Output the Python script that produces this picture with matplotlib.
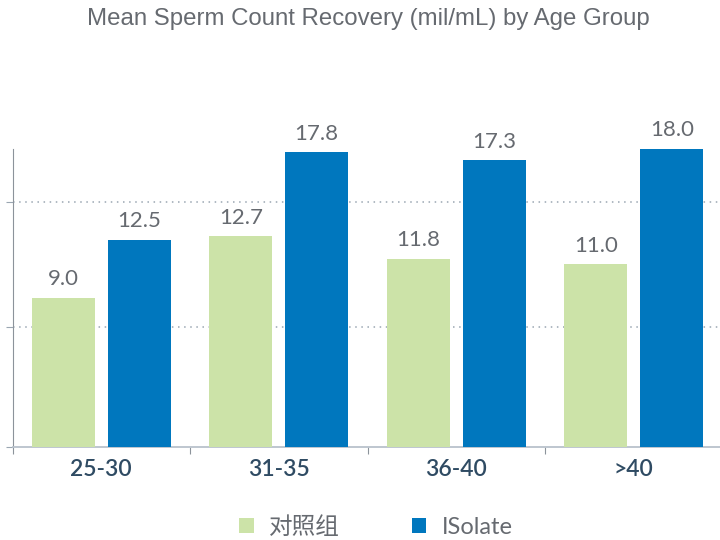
import numpy as np
import matplotlib.pyplot as plt

# data
groups = ['25-30', '31-35', '36-40', '>40']
control = [9.0, 12.7, 11.35, 11.0]          # bar heights as drawn
control_labels = ['9.0', '12.7', '11.8', '11.0']  # labels as printed
isolate = [12.5, 17.8, 17.3, 18.0]
isolate_labels = ['12.5', '17.8', '17.3', '18.0']
series_names = ['对照组', 'ISolate']
grid_vals = [7.2, 14.78]

green = '#cce3a8'
blue = '#0077be'
label_grey = '#666a70'
tick_blue = '#2f4b63'

plt.rcParams['font.family'] = ['Lato', 'Noto Sans CJK SC', 'DejaVu Sans']

fig = plt.figure(figsize=(7.2, 5.4), dpi=100)
ax = fig.add_axes([12.5 / 720, 93.5 / 540, 710 / 720, (446.5 - 115.5) / 540])

x = np.arange(len(groups))
w = 0.355
off = 0.214
b1 = ax.bar(x - off, control, w, color=green, label=series_names[0], zorder=3)
b2 = ax.bar(x + off, isolate, w, color=blue, label=series_names[1], zorder=3)

for bars, vals, labs in [(b1, control, control_labels), (b2, isolate, isolate_labels)]:
    for r, v, t in zip(bars, vals, labs):
        ax.annotate(t, (r.get_x() + r.get_width() / 2, v), xytext=(0, 6),
                    textcoords='offset points', ha='center', va='bottom',
                    fontsize=16, color=label_grey)

ax.set_xlim(-0.5, len(groups) - 0.5)
ax.set_ylim(0, 20)

# dotted gridlines
for g in grid_vals:
    ax.axhline(g, color='#9aa6b2', lw=1.1, ls=(0, (1, 3)), zorder=1)

for s in ['top', 'right']:
    ax.spines[s].set_visible(False)
ax.spines['left'].set_bounds(0, 18)
ax.spines['left'].set_color('#8c939b')
ax.spines['bottom'].set_color('#b9c2cc')
ax.spines['bottom'].set_linewidth(1.3)

ax.set_yticks([0] + grid_vals)
ax.set_yticklabels([])
ax.tick_params(axis='y', length=5, color='#9aa6b2', direction='out')

ax.set_xticks(np.arange(len(groups) + 1) - 0.5)
ax.set_xticklabels([])
ax.tick_params(axis='x', which='major', length=5, color='#8c939b', direction='out')
ax.set_xticks(x, minor=True)
ax.set_xticklabels(groups, minor=True, fontsize=16.5, color=tick_blue, fontweight='semibold')
ax.tick_params(axis='x', which='minor', length=0, pad=9)

fig.text(0.512, 1 - 19 / 540, 'Mean Sperm Count Recovery (mil/mL) by Age Group',
         ha='center', va='center', fontsize=17.3, color=label_grey,
         family=['Liberation Sans', 'DejaVu Sans'])

fig.legend(handles=[b1, b2], loc='center', bbox_to_anchor=(0.522, 1 - 527 / 540),
           ncol=2, frameon=False, fontsize=17, labelcolor=label_grey,
           handlelength=0.62, handleheight=0.62, handletextpad=0.65, columnspacing=3.05)

fig.savefig('out.png', dpi=100)
